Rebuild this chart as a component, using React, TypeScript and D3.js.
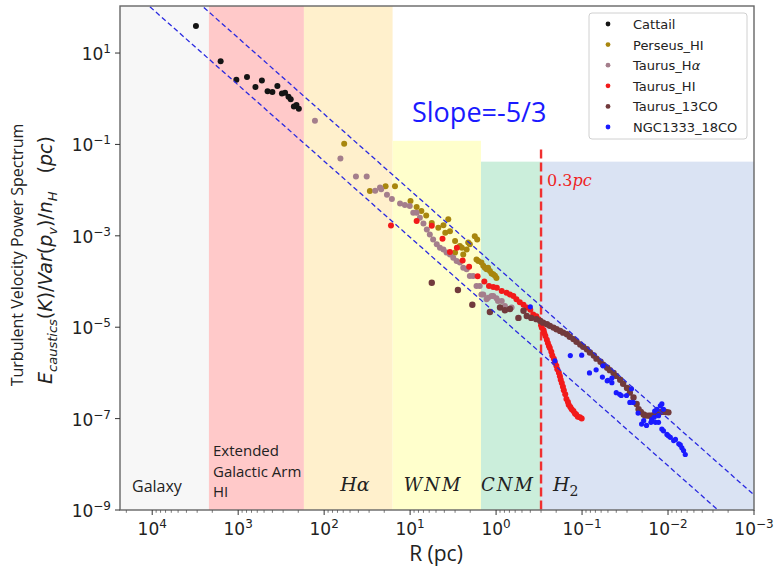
import React from "react";
import * as d3 from "d3";

const W = 777;
const H = 568;
const PL = 120, PR = 754, PT = 6, PB = 510;

const xDomain = [23700, 0.001];
const yDomain = [1e-9, 107];
const xTickExps = [4, 3, 2, 1, 0, -1, -2, -3];
const yTickExps = [1, -1, -3, -5, -7, -9];

const regionNames = ["Galaxy", "Extended Galactic Arm HI", "Hα", "WNM", "CNM", "H2"];
const regionFrom = [23700, 2190, 172, 16, 1.5, 0.3];
const regionTo = [2190, 172, 16, 1.5, 0.3, 0.001];
const regionTop = [107, 107, 107, 0.12, 0.042, 0.042];
const regionColors = ["#f7f7f7", "#ffc9c9", "#fff0cc", "#ffffcc", "#cbeedb", "#dae3f3"];

const slopeExponent = 5 / 3;
const slopeIntercepts = [2.14e-4, 2.0e-5];
const breakR = 0.3;
const breakTop = 0.077;

const cattail = [[3100,39],[1600,6.6],[1050,2.6],[790,3.0],[630,1.8],[530,2.5],[455,1.45],[400,1.4],[350,1.9],[310,1.3],[285,1.35],[260,1.1],[245,0.98],[225,0.68],[210,0.73],[197,0.6]];

const perseusHI = [[58.5,0.104],[29.4,0.0096],[19.3,0.0122],[15,0.0122],[9.9,0.0058],[8.4,0.0043],[7.4,0.0035],[6.5,0.0028],[5.6,0.0019],[4.7,0.0015],[4.1,0.0017],[3.6,0.0023],[3.9,0.00117],[3.44,0.00126],[3.0,7.7e-4],[3.0,4.3e-4],[2.64,6.0e-4],[2.5,5.5e-4],[2.41,3.9e-4],[2.2,5.0e-4],[2.11,7.1e-4],[2.02,6.5e-4],[1.77,9.8e-4],[1.66,8.3e-4],[1.69,3.05e-4],[1.61,2.8e-4],[1.48,2.6e-4],[1.41,2.2e-4],[1.35,2.0e-4],[1.29,1.85e-4],[1.24,2.0e-4],[1.18,1.7e-4],[1.13,1.5e-4],[1.08,1.44e-4],[1.03,1.33e-4],[0.99,1.2e-4]];

const taurusHa = [[128,0.33],[64.7,0.049],[42.7,0.0198],[32,0.0198],[25.5,0.0097],[22.4,0.0114],[21.7,0.0105],[18.6,0.0079],[16.3,0.0064],[13.1,0.0051],[11.5,0.0047],[10.1,0.0045],[9.2,0.0032],[8.4,0.0032],[7.7,0.0025],[7.0,0.00186],[6.4,0.00138],[5.9,0.00107],[5.4,8.3e-4],[4.9,6.5e-4],[4.5,5.5e-4],[4.1,5.0e-4],[3.77,4.3e-4],[3.44,3.9e-4],[3.15,3.3e-4],[2.88,2.8e-4],[2.64,2.6e-4],[2.41,2.0e-4],[2.2,1.85e-4],[2.02,1.32e-4],[1.85,1.32e-4],[1.69,8.0e-5],[1.55,8.0e-5],[1.48,5.2e-5],[1.41,5.2e-5],[1.29,4.1e-5],[1.24,4.4e-5],[1.13,4.8e-5],[1.08,4.8e-5],[0.99,4.3e-5],[0.95,3.75e-5],[0.86,3.75e-5],[0.79,2.9e-5],[0.66,2.7e-5]];

const taurusHI = [[16.7,0.00169],[8.4,0.0021],[5.6,0.00166],[4.2,8.6e-4],[3.44,4.4e-4],[2.86,5.5e-4],[2.45,2.9e-4],[2.06,2.1e-4],[1.64,1.3e-4],[1.37,1.0e-4],[1.21,8.0e-5],[1.08,7.6e-5],[0.98,7.3e-5],[0.86,6.2e-5],[0.755,5.7e-5],[0.69,5.2e-5],[0.63,4.8e-5],[0.58,4.1e-5],[0.53,3.5e-5],[0.48,3.1e-5],[0.44,2.7e-5],[0.40,2.4e-5],[0.37,1.9e-5],[0.34,1.74e-5],[0.32,1.5e-5],[0.30,1.1e-5],[0.294,9.7e-6],[0.28,8.6e-6],[0.275,7.4e-6],[0.267,6.4e-6],[0.257,5.3e-6],[0.25,4.5e-6],[0.243,3.9e-6],[0.237,3.5e-6],[0.228,2.9e-6],[0.222,2.4e-6],[0.213,2.05e-6],[0.207,1.7e-6],[0.199,1.44e-6],[0.194,1.2e-6],[0.186,1.01e-6],[0.181,8.5e-7],[0.177,7.1e-7],[0.172,6.0e-7],[0.167,5.0e-7],[0.163,4.2e-7],[0.157,3.4e-7],[0.152,2.7e-7],[0.146,2.3e-7],[0.143,2.0e-7],[0.137,1.8e-7],[0.132,1.6e-7],[0.126,1.46e-7],[0.121,1.3e-7],[0.117,1.23e-7],[0.112,1.1e-7],[0.106,1.07e-7],[0.101,1.0e-7]];

const taurus13CO = [[5.6,9.4e-5],[2.78,6.5e-5],[1.89,3.1e-5],[1.18,2.15e-5],[0.90,2.7e-5],[0.79,2.35e-5],[0.69,2.5e-5],[0.55,1.6e-5],[0.48,2.3e-5],[0.44,1.76e-5],[0.39,1.6e-5],[0.34,1.5e-5],[0.306,1.37e-5],[0.284,1.26e-5],[0.256,1.16e-5],[0.237,1.07e-5],[0.215,9.8e-6],[0.198,9.0e-6],[0.18,8.3e-6],[0.166,7.6e-6],[0.15,7.0e-6],[0.139,6.2e-6],[0.126,5.5e-6],[0.116,4.8e-6],[0.105,4.2e-6],[0.097,3.75e-6],[0.088,3.3e-6],[0.081,2.8e-6],[0.073,2.4e-6],[0.068,2.05e-6],[0.061,1.76e-6],[0.057,1.52e-6],[0.051,1.3e-6],[0.0475,1.15e-6],[0.043,1.0e-6],[0.040,8.6e-7],[0.036,7.1e-7],[0.0333,5.8e-7],[0.030,4.7e-7],[0.0278,3.7e-7],[0.0252,2.9e-7],[0.0232,2.1e-7],[0.022,1.6e-7],[0.0207,1.39e-7],[0.0192,1.23e-7],[0.0184,1.17e-7],[0.0168,1.16e-7],[0.0159,1.16e-7],[0.0147,1.18e-7],[0.0139,1.26e-7],[0.0129,1.36e-7],[0.0121,1.39e-7],[0.0113,1.41e-7],[0.0106,1.39e-7],[0.0099,1.37e-7]];

const ngc1333 = [[0.40,2.8e-5],[0.207,1.84e-6],[0.137,2.4e-6],[0.101,2.44e-6],[0.082,1.0e-6],[0.0686,1.17e-6],[0.058,8.1e-7],[0.057,1.43e-6],[0.051,6.7e-7],[0.050,6.9e-7],[0.045,6.1e-7],[0.045,7.7e-7],[0.040,3.7e-7],[0.0365,3.4e-7],[0.035,3.2e-7],[0.0304,3.2e-7],[0.0266,4.5e-7],[0.0278,2.26e-7],[0.0255,2.26e-7],[0.0223,1.32e-7],[0.0203,7.6e-8],[0.0192,9.0e-8],[0.0178,7.1e-8],[0.0158,8.3e-8],[0.0155,9.5e-8],[0.0145,1.07e-7],[0.0143,1.46e-7],[0.014,8.3e-8],[0.0135,1.6e-7],[0.0129,1.16e-7],[0.0123,1.9e-7],[0.0118,2.1e-7],[0.0113,1.6e-7],[0.0129,8.3e-8],[0.0118,5.9e-8],[0.0113,5.4e-8],[0.0103,4.5e-8],[0.0099,4.2e-8],[0.0094,3.9e-8],[0.0086,3.3e-8],[0.0082,3.5e-8],[0.0075,2.8e-8],[0.0072,2.65e-8],[0.0069,2.3e-8],[0.0066,2.0e-8],[0.0063,1.64e-8]];

const seriesNames = ["Cattail", "Perseus_HI", "Taurus_Hα", "Taurus_HI", "Taurus_13CO", "NGC1333_18CO"];
const seriesData = [cattail, perseusHI, taurusHa, taurusHI, taurus13CO, ngc1333];
const seriesColors = ["#141414", "#a8860e", "#a47e8c", "#f21a1a", "#713a3c", "#1a1aff"];
const seriesRadius = [3, 3, 3, 3, 3.2, 2.6];

const supText = (e: number) => (e < 0 ? "\u2212" + Math.abs(e) : String(e));

export default function App() {
  const x = d3.scaleLog().domain(xDomain).range([PL, PR]);
  const y = d3.scaleLog().domain(yDomain).range([PB, PT]);

  const minorTicks: number[] = [];
  for (let e = -3; e <= 4; e++) {
    for (let m = 2; m <= 9; m++) {
      const v = m * Math.pow(10, e);
      if (v <= xDomain[0] && v >= xDomain[1]) minorTicks.push(v);
    }
  }

  const slopeLine = d3
    .line<number>()
    .x((r) => x(r))
    .y((r) => 0);

  const lineFor = (c: number) => {
    const pts = xDomain.map((r) => [x(r), y(c * Math.pow(r, slopeExponent))]);
    return `M${pts[0][0]},${pts[0][1]}L${pts[1][0]},${pts[1][1]}`;
  };
  void slopeLine;

  const serif = "'DejaVu Serif', serif";
  const sans = "'DejaVu Sans', sans-serif";
  const open = "'Open Sans', sans-serif";

  const legendY0 = 24;
  const legendDy = 20.6;

  return (
    <svg width={W} height={H} style={{ position: "absolute", left: 0, top: 0, background: "#fff" }}>
      <defs>
        <clipPath id="plotclip">
          <rect x={PL} y={PT} width={PR - PL} height={PB - PT} />
        </clipPath>
      </defs>
      <rect x={0} y={0} width={W} height={H} fill="#fff" />
      <g clipPath="url(#plotclip)">
        {regionNames.map((n, i) => (
          <rect
            key={n}
            x={x(regionFrom[i])}
            y={y(regionTop[i])}
            width={x(regionTo[i]) - x(regionFrom[i])}
            height={PB - y(regionTop[i])}
            fill={regionColors[i]}
          />
        ))}
        <line
          x1={x(breakR)}
          x2={x(breakR)}
          y1={y(breakTop)}
          y2={PB}
          stroke="#f03030"
          strokeWidth={2.4}
          strokeDasharray="9,4"
        />
        {seriesData.map((data, si) => (
          <g key={seriesNames[si]} fill={seriesColors[si]}>
            {data.map((d, i) => (
              <circle key={i} cx={x(d[0])} cy={y(d[1])} r={seriesRadius[si]} />
            ))}
          </g>
        ))}
        {slopeIntercepts.map((c, i) => (
          <path key={i} d={lineFor(c)} stroke="#2a2ae0" strokeWidth={1.3} strokeDasharray="5,3" fill="none" />
        ))}
      </g>

      {/* region labels */}
      <text x={132} y={492} fontFamily={open} fontSize={16} fill="#222">Galaxy</text>
      <text fontFamily={open} fontSize={15} fill="#222">
        <tspan x={213} y={456}>Extended</tspan>
        <tspan x={213} y={477}>Galactic Arm</tspan>
        <tspan x={213} y={497}>HI</tspan>
      </text>
      <text x={355} y={491} textAnchor="middle" fontFamily={serif} fontStyle="italic" fontSize={19} fill="#222">Hα</text>
      <text x={433} y={491} textAnchor="middle" fontFamily={serif} fontStyle="italic" fontSize={18} letterSpacing={2} fill="#222">WNM</text>
      <text x={508} y={491} textAnchor="middle" fontFamily={serif} fontStyle="italic" fontSize={18} letterSpacing={2} fill="#222">CNM</text>
      <text x={553} y={491} fontFamily={serif} fontSize={19} fill="#222">
        <tspan fontStyle="italic">H</tspan>
        <tspan fontSize={14} dy={5}>2</tspan>
      </text>
      <text x={547} y={186} fontFamily={serif} fontSize={16} fill="#ee2222">
        <tspan>0.3</tspan>
        <tspan fontStyle="italic">pc</tspan>
      </text>
      <text x={412} y={122} fontFamily={open} fontSize={27} fill="#1a1aff">Slope=-5/3</text>

      {/* frame */}
      <rect x={PL} y={PT} width={PR - PL} height={PB - PT} fill="none" stroke="#666" strokeWidth={1.4} />

      {/* x ticks */}
      {xTickExps.map((e) => (
        <g key={"xt" + e}>
          <line x1={x(Math.pow(10, e))} x2={x(Math.pow(10, e))} y1={PB} y2={PB + 5} stroke="#333" strokeWidth={1} />
          <text x={x(Math.pow(10, e))} y={535} textAnchor="middle" fontFamily={sans} fontSize={17} fill="#222">
            <tspan>10</tspan>
            <tspan dy={-7} fontSize={12}>{supText(e)}</tspan>
          </text>
        </g>
      ))}
      {minorTicks.map((v, i) => (
        <line key={"mt" + i} x1={x(v)} x2={x(v)} y1={PB} y2={PB + 2.8} stroke="#555" strokeWidth={0.8} />
      ))}
      {/* y ticks */}
      {yTickExps.map((e) => (
        <g key={"yt" + e}>
          <line x1={PL - 5} x2={PL} y1={y(Math.pow(10, e))} y2={y(Math.pow(10, e))} stroke="#333" strokeWidth={1} />
          <text x={111} y={y(Math.pow(10, e)) + 7} textAnchor="end" fontFamily={sans} fontSize={17} fill="#222">
            <tspan>10</tspan>
            <tspan dy={-7} fontSize={12}>{supText(e)}</tspan>
          </text>
        </g>
      ))}

      {/* axis labels */}
      <text x={436} y={561} textAnchor="middle" fontFamily={open} fontSize={21} fill="#222">R (pc)</text>
      <text transform="translate(23,255) rotate(-90)" textAnchor="middle" fontFamily={open} fontSize={16} fill="#222">
        Turbulent Velocity Power Spectrum
      </text>
      <text transform="translate(52,260) rotate(-90)" textAnchor="middle" fontFamily={sans} fontSize={19} fill="#222">
        <tspan fontStyle="italic">E</tspan>
        <tspan fontStyle="italic" fontSize={13} dy={5}>caustics</tspan>
        <tspan dy={-5}>(</tspan>
        <tspan fontStyle="italic">K</tspan>
        <tspan>)/</tspan>
        <tspan fontStyle="italic">Var</tspan>
        <tspan>(</tspan>
        <tspan fontStyle="italic">p</tspan>
        <tspan fontStyle="italic" fontSize={13} dy={5}>v</tspan>
        <tspan dy={-5}>)/</tspan>
        <tspan fontStyle="italic">n</tspan>
        <tspan fontStyle="italic" fontSize={13} dy={5}>H</tspan>
        <tspan dy={-5} dx={18}>(</tspan>
        <tspan fontStyle="italic">pc</tspan>
        <tspan>)</tspan>
      </text>

      {/* legend */}
      <rect x={589} y={13} width={158} height={126} rx={3} fill="#fff" fillOpacity={0.9} stroke="#d0d0d0" strokeWidth={1} />
      {seriesNames.map((n, i) => (
        <g key={"lg" + n}>
          <circle cx={608} cy={legendY0 + i * legendDy} r={2.4} fill={seriesColors[i]} />
          <text x={633} y={legendY0 + i * legendDy + 5} fontFamily={sans} fontSize={13} fill="#222">
            {n === "Taurus_Hα" ? (
              <>
                <tspan>Taurus_H</tspan>
                <tspan fontStyle="italic">α</tspan>
              </>
            ) : (
              n
            )}
          </text>
        </g>
      ))}
    </svg>
  );
}
